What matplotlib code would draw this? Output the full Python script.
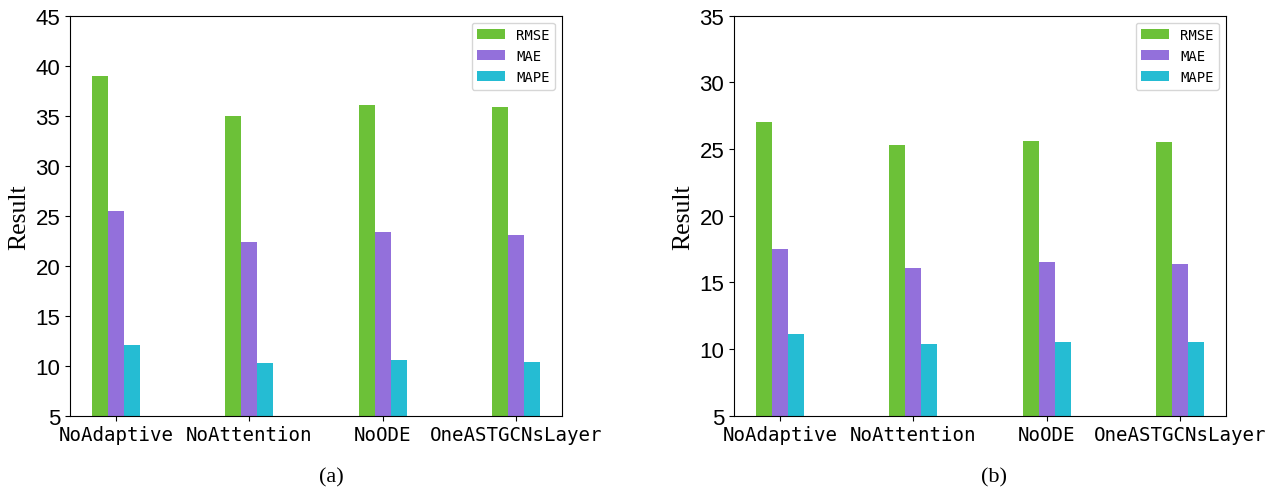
"""ablation study bar charts (a) and (b)"""
import numpy as np
from matplotlib import pyplot as plt

models = ['NoAdaptive', 'NoAttention', 'NoODE', 'OneASTGCNsLayer']
metrics = ['RMSE', 'MAE', 'MAPE']
colors = ['#6cc138', '#9370db', '#25bcd3']

# panel (a)
rmseA = [39.0, 35.0, 36.1, 35.9]
maeA = [25.5, 22.4, 23.4, 23.1]
mapeA = [12.1, 10.3, 10.6, 10.4]
# panel (b)
rmseB = [27.0, 25.3, 25.6, 25.5]
maeB = [17.5, 16.1, 16.5, 16.4]
mapeB = [11.1, 10.4, 10.55, 10.5]

panels = [((rmseA, maeA, mapeA), (5, 45), '(a)'),
          ((rmseB, maeB, mapeB), (5, 35), '(b)')]

fig = plt.figure(figsize=(12.75, 4.89), dpi=100)
axLefts = [70 / 1275, 734 / 1275]
captionX = [331 / 1275, 994 / 1275]
width = 0.12
x = np.arange(len(models))

for i, (series, ylim, caption) in enumerate(panels):
    ax = fig.add_axes([axLefts[i], 72.3 / 489, 492 / 1275, 400 / 489])
    for j, values in enumerate(series):
        ax.bar(x + (j - 1) * width, np.array(values) - ylim[0], width,
               bottom=ylim[0], color=colors[j], label=metrics[j])
    ax.set_ylim(*ylim)
    ax.set_xticks(x)
    ax.set_xticklabels(models, family='DejaVu Sans Mono', fontsize=13.75)
    for lbl in ax.get_yticklabels():
        lbl.set_family('Liberation Sans')
        lbl.set_fontsize(16)
    ax.set_ylabel('Result', family='Liberation Serif', fontsize=18.5)
    ax.legend(loc='upper right', prop={'family': 'DejaVu Sans Mono', 'size': 10})
    fig.text(captionX[i], 11 / 489, caption, ha='center', va='center',
             family='Liberation Serif', fontsize=16)

plt.savefig('out.png', dpi=100)
